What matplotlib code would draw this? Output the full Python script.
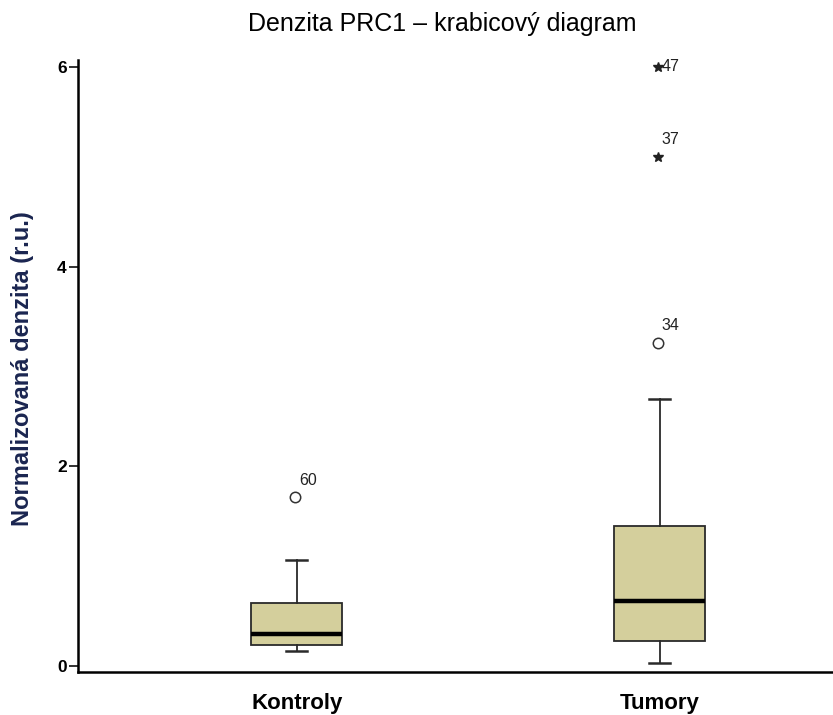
import matplotlib
matplotlib.use('Agg')
import matplotlib.pyplot as plt

plt.rcParams['font.family'] = ['Liberation Sans', 'DejaVu Sans']

# hodnoty
groups = ['Kontroly', 'Tumory']
q1 = [0.21, 0.25]
median = [0.32, 0.65]
q3 = [0.63, 1.40]
whislo = [0.15, 0.03]
whishi = [1.06, 2.67]

# odlehlé hodnoty: skupina, hodnota, číslo případu, typ (o = kruh, * = extrém)
out_group = [0, 1, 1, 1]
out_value = [1.69, 3.24, 5.10, 6.00]
out_id = ['60', '34', '37', '47']
out_kind = ['o', 'o', '*', '*']

box_color = '#d4cf9c'

fig = plt.figure(figsize=(8.33, 7.15), dpi=100)
ax = fig.add_axes([0.0936, 0.0601, 0.9064, 0.856])

stats = []
for i, g in enumerate(groups):
    stats.append(dict(label=g, q1=q1[i], med=median[i], q3=q3[i],
                      whislo=whislo[i], whishi=whishi[i], fliers=[]))

positions = [1, 2]
ax.bxp(stats, positions=positions, widths=0.25, capwidths=0.058,
       showfliers=False, patch_artist=True,
       boxprops=dict(facecolor=box_color, edgecolor='#2a2a2a', linewidth=1.3),
       medianprops=dict(color='black', linewidth=3.2, solid_capstyle='butt'),
       whiskerprops=dict(color='#2a2a2a', linewidth=1.3),
       capprops=dict(color='#2a2a2a', linewidth=1.8))

for g, v, lab, k in zip(out_group, out_value, out_id, out_kind):
    x = positions[g] - 0.006
    if k == 'o':
        ax.plot(x, v, 'o', ms=7.5, mfc='white', mec='#333333', mew=1.1)
    else:
        ax.plot(x, v, '*', ms=7, color='#222222', mec='#222222')
    if lab == '47':
        ax.annotate(lab, (x, v), xytext=(3, 0), textcoords='offset points',
                    ha='left', va='center', fontsize=11.5, color='#222222')
    else:
        ax.annotate(lab, (x, v), xytext=(3, 7), textcoords='offset points',
                    ha='left', va='bottom', fontsize=11.5, color='#222222')

ax.set_xlim(0.397, 2.477)
ax.set_ylim(-0.06, 6.07)
ax.set_yticks([0, 2, 4, 6])
ax.set_yticklabels(['0', '2', '4', '6'], fontweight='bold', fontsize=12.5)
ax.set_xticks(positions)
ax.set_xticklabels(groups, fontweight='bold', fontsize=16)
ax.tick_params(axis='x', length=0, pad=15)
ax.tick_params(axis='y', length=6.5, width=1.3, pad=1.5, color='#222222')

ax.spines['top'].set_visible(False)
ax.spines['right'].set_visible(False)
ax.spines['left'].set_linewidth(1.8)
ax.spines['bottom'].set_linewidth(1.8)
ax.spines['left'].set_bounds(-0.06, 6.07)

fig.text(0.531, 0.967, 'Denzita PRC1 \u2013 krabicový diagram',
         ha='center', va='center', fontsize=18)
fig.text(0.027, 0.484, 'Normalizovaná denzita (r.u.)', rotation=90,
         ha='center', va='center', fontsize=17, fontweight='bold',
         color='#1a2550')

fig.savefig('out.png', dpi=100)
